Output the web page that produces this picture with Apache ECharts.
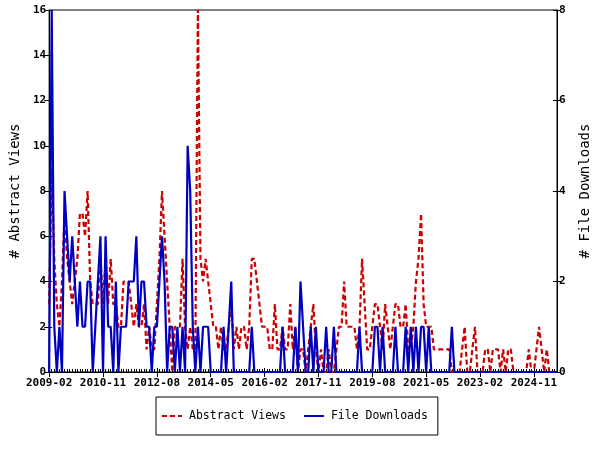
<!DOCTYPE html>
<html>
<head>
<meta charset="utf-8">
<script src="https://cdn.jsdelivr.net/npm/echarts@6/dist/echarts.min.js"></script>
<style>html,body{margin:0;padding:0;background:#fff}#c{width:600px;height:450px}</style>
</head>
<body>
<div id="c"></div>
<script>
// Monthly categories 2009-02 .. 2025-08
const startYear = 2009, startMonth = 2, monthCount = 199;
const months = [];
for (let k = 0; k < monthCount; k++) {
  const m = startMonth - 1 + k;
  const y = startYear + Math.floor(m / 12);
  const mm = (m % 12) + 1;
  months.push(y + '-' + (mm < 10 ? '0' + mm : mm));
}
const abstractViews = [
  3,9,5,3,2,4,7,5,4,3, 4,5,7,7,6,8,4,3,3,3, 5,3,5,3,5,3,3,2,2,4, 4,4,3,2,3,2,2,3,1,2,
  1,1,3,5,8,6,4,2,0,2, 2,2,5,2,1,2,1,1,16,5, 4,5,4,3,2,2,1,2,1,1, 2,3,1,2,1,2,2,1,2,5,
  5,4,3,2,2,2,1,1,3,1, 1,2,1,1,3,1,2,0,1,1, 0,1,2,3,1,0,1,0,0,1, 0,0,1,2,2,4,2,2,2,2,
  1,2,5,3,1,1,2,3,3,2, 1,3,2,1,2,3,3,2,2,3, 1,1,2,4,5,7,3,2,2,2, 1,1,1,1,1,1,1,0,0,0,
  0,1,2,0,0,1,2,0,0,0, 1,1,0,1,1,1,0,1,0,1, 1,0,0,0,0,0,0,1,0,0, 1,2,1,0,1,0,0,0,0
];
const fileDownloads = [
  0,8,1,0,1,0,4,3,2,3, 2,1,2,1,1,2,2,0,1,2, 3,0,3,1,1,0,2,0,1,1, 1,2,2,2,3,1,2,2,1,1,
  0,1,1,2,3,2,0,1,1,0, 1,0,1,0,5,4,1,0,1,0, 1,1,1,0,0,0,0,0,1,0, 1,2,0,0,0,0,0,0,0,1,
  0,0,0,0,0,0,0,0,0,0, 0,1,0,0,0,0,1,0,2,1, 0,0,1,0,1,0,0,0,1,0, 0,1,0,0,0,0,0,0,0,0,
  0,1,0,0,0,0,0,1,1,0, 1,0,0,0,0,1,0,0,0,1, 0,1,0,1,0,1,1,0,1,0, 0,0,0,0,0,0,0,1,0,0,
  0,0,0,0,0,0,0,0,0,0, 0,0,0,0,0,0,0,0,0,0, 0,0,0,0,0,0,0,0,0,0, 0,0,0,0,0,0,0,0,0
];
const leftTicks = {min: 0, max: 16, interval: 2};
const rightTicks = {min: 0, max: 8, interval: 2};
const labelEvery = 21;

const FONT = '"DejaVu Sans Mono", monospace';
const chart = echarts.init(document.getElementById('c'), null, {renderer: 'canvas'});
const baseX = {
  type: 'category', data: months, boundaryGap: false, position: 'bottom', gridIndex: 0,
  splitLine: {show: false}
};
chart.setOption({
  animation: false,
  backgroundColor: '#fff',
  grid: {left: 48, right: 41, top: 10, bottom: 78, show: true, borderColor: '#000', borderWidth: 1},
  xAxis: [
    Object.assign({}, baseX, {
      axisLine: {show: true, lineStyle: {color: '#000', width: 1}},
      axisTick: {show: true, interval: labelEvery - 1, length: 5, lineStyle: {color: '#000', width: 1}},
      axisLabel: {interval: labelEvery - 1, color: '#000', fontFamily: FONT, fontWeight: 'bold', fontSize: 11, margin: 6}
    }),
    Object.assign({}, baseX, {
      axisLine: {show: false},
      axisTick: {show: true, interval: 0, inside: true, length: 3, lineStyle: {color: '#000', width: 1}},
      axisLabel: {show: false}
    }),
    Object.assign({}, baseX, {
      axisLine: {show: false},
      axisTick: {show: true, interval: labelEvery - 1, inside: true, length: 4, lineStyle: {color: '#000', width: 1}},
      axisLabel: {show: false}
    })
  ],
  yAxis: [
    {
      type: 'value', position: 'left', min: leftTicks.min, max: leftTicks.max, interval: leftTicks.interval,
      name: '# Abstract Views', nameLocation: 'middle', nameGap: 26, nameRotate: 90,
      nameTextStyle: {color: '#000', fontFamily: FONT, fontSize: 14},
      axisLine: {show: true, lineStyle: {color: '#000', width: 1}},
      axisTick: {show: true, length: 5, lineStyle: {color: '#000'}},
      axisLabel: {color: '#000', fontFamily: FONT, fontWeight: 'bold', fontSize: 11, margin: 3},
      splitLine: {show: false}
    },
    {
      type: 'value', position: 'right', min: rightTicks.min, max: rightTicks.max, interval: rightTicks.interval,
      name: '# File Downloads', nameLocation: 'middle', nameGap: 21, nameRotate: 90,
      nameTextStyle: {color: '#000', fontFamily: FONT, fontSize: 14},
      axisLine: {show: true, lineStyle: {color: '#000', width: 1}},
      axisTick: {show: true, length: 4, lineStyle: {color: '#000'}},
      axisLabel: {color: '#000', fontFamily: FONT, fontWeight: 'bold', fontSize: 11, margin: 2},
      splitLine: {show: false}
    },
    {
      type: 'value', position: 'left', min: leftTicks.min, max: leftTicks.max, interval: leftTicks.interval,
      axisLine: {show: false}, axisTick: {show: true, inside: true, length: 3, lineStyle: {color: '#000'}},
      axisLabel: {show: false}, splitLine: {show: false}
    },
    {
      type: 'value', position: 'right', min: rightTicks.min, max: rightTicks.max, interval: rightTicks.interval,
      axisLine: {show: false}, axisTick: {show: true, inside: true, length: 4, lineStyle: {color: '#000'}},
      axisLabel: {show: false}, splitLine: {show: false}
    }
  ],
  legend: {
    left: 156, top: 397, orient: 'horizontal',
    padding: [13, 10, 13, 5], itemGap: 17, itemWidth: 20, itemHeight: 10,
    borderColor: '#000', borderWidth: 1,
    itemStyle: {opacity: 0},
    textStyle: {color: '#000', fontFamily: FONT, fontSize: 11.5, padding: [0, 0, 0, 2]},
    data: ['Abstract Views', 'File Downloads']
  },
  series: [
    {
      name: 'Abstract Views', type: 'line', xAxisIndex: 0, yAxisIndex: 0, data: abstractViews,
      symbol: 'none', lineStyle: {color: '#cc0000', width: 2.2, type: [5, 3]}, itemStyle: {color: '#cc0000'}, z: 2
    },
    {
      name: 'File Downloads', type: 'line', xAxisIndex: 0, yAxisIndex: 1, data: fileDownloads,
      symbol: 'none', lineStyle: {color: '#0000c0', width: 2.2}, itemStyle: {color: '#0000c0'}, z: 3
    }
  ]
});
</script>
</body>
</html>
